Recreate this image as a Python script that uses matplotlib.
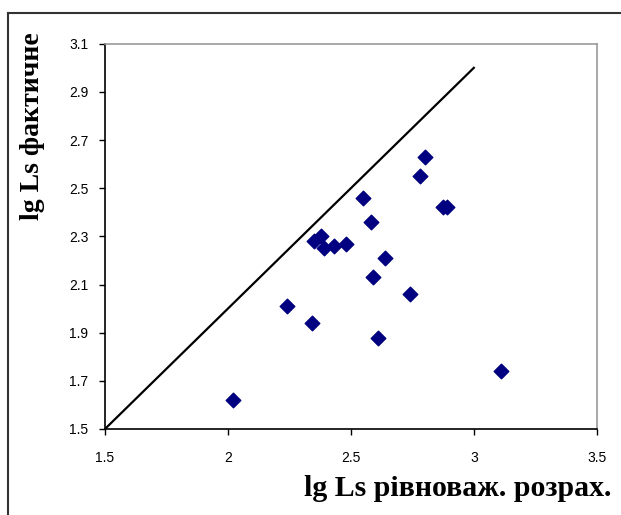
import matplotlib.pyplot as plt
from matplotlib.lines import Line2D

# lg Ls: equilibrium-calculated vs actual
lg_ls_calc = [2.02, 2.24, 2.34, 2.61, 2.35, 2.38, 2.39, 2.43, 2.48,
              2.55, 2.58, 2.64, 2.59, 2.74, 2.78, 2.80, 2.875, 2.89, 3.11]
lg_ls_fact = [1.62, 2.01, 1.94, 1.88, 2.28, 2.30, 2.25, 2.26, 2.27,
              2.46, 2.36, 2.21, 2.13, 2.06, 2.55, 2.63, 2.42, 2.42, 1.74]

# equality line
line_x = [1.5, 3.0]
line_y = [1.5, 3.0]

x_ticks = [1.5, 2, 2.5, 3, 3.5]
x_labels = ["1.5", "2", "2.5", "3", "3.5"]
y_ticks = [1.5, 1.7, 1.9, 2.1, 2.3, 2.5, 2.7, 2.9, 3.1]

fig = plt.figure(figsize=(6.21, 5.15), dpi=100)
ax = fig.add_axes([0.169, 0.167, 0.792, 0.748])

ax.plot(line_x, line_y, color="black", linewidth=1.6, zorder=2)
ax.scatter(lg_ls_calc, lg_ls_fact, marker="D", s=55, color="#000080",
           edgecolors="#000080", zorder=3)

ax.set_xlim(1.5, 3.5)
ax.set_ylim(1.5, 3.1)
ax.set_xticks(x_ticks)
ax.set_xticklabels(x_labels)
ax.set_yticks(y_ticks)
ax.set_yticklabels([f"{v:.1f}" for v in y_ticks])
ax.tick_params(labelsize=10, length=4, width=1, direction="out")
ax.tick_params(axis="x", pad=12)
ax.tick_params(axis="y", pad=8)
for lab in ax.get_xticklabels() + ax.get_yticklabels():
    lab.set_family("Liberation Sans")

ax.spines["left"].set_color("black")
ax.spines["bottom"].set_color("black")
ax.spines["top"].set_color("#999999")
ax.spines["right"].set_color("#999999")
for sp in ax.spines.values():
    sp.set_linewidth(1.2)

ax.set_ylabel("lg Ls фактичне", fontsize=20, fontweight="bold",
              family="Liberation Serif")
ax.yaxis.set_label_coords(-0.122, 0.785)
fig.text(0.985, 0.025, "lg Ls рівноваж. розрах.", ha="right", va="bottom",
         fontsize=21.5, fontweight="bold", family="Liberation Serif")

# outer chart border (left and top visible)
fig.add_artist(Line2D([8 / 621, 8 / 621], [0, 1 - 13 / 515],
                      transform=fig.transFigure, color="#333333", linewidth=1.5))
fig.add_artist(Line2D([8 / 621, 1], [1 - 13 / 515, 1 - 13 / 515],
                      transform=fig.transFigure, color="#333333", linewidth=1.5))

fig.savefig("out.png", dpi=100)
